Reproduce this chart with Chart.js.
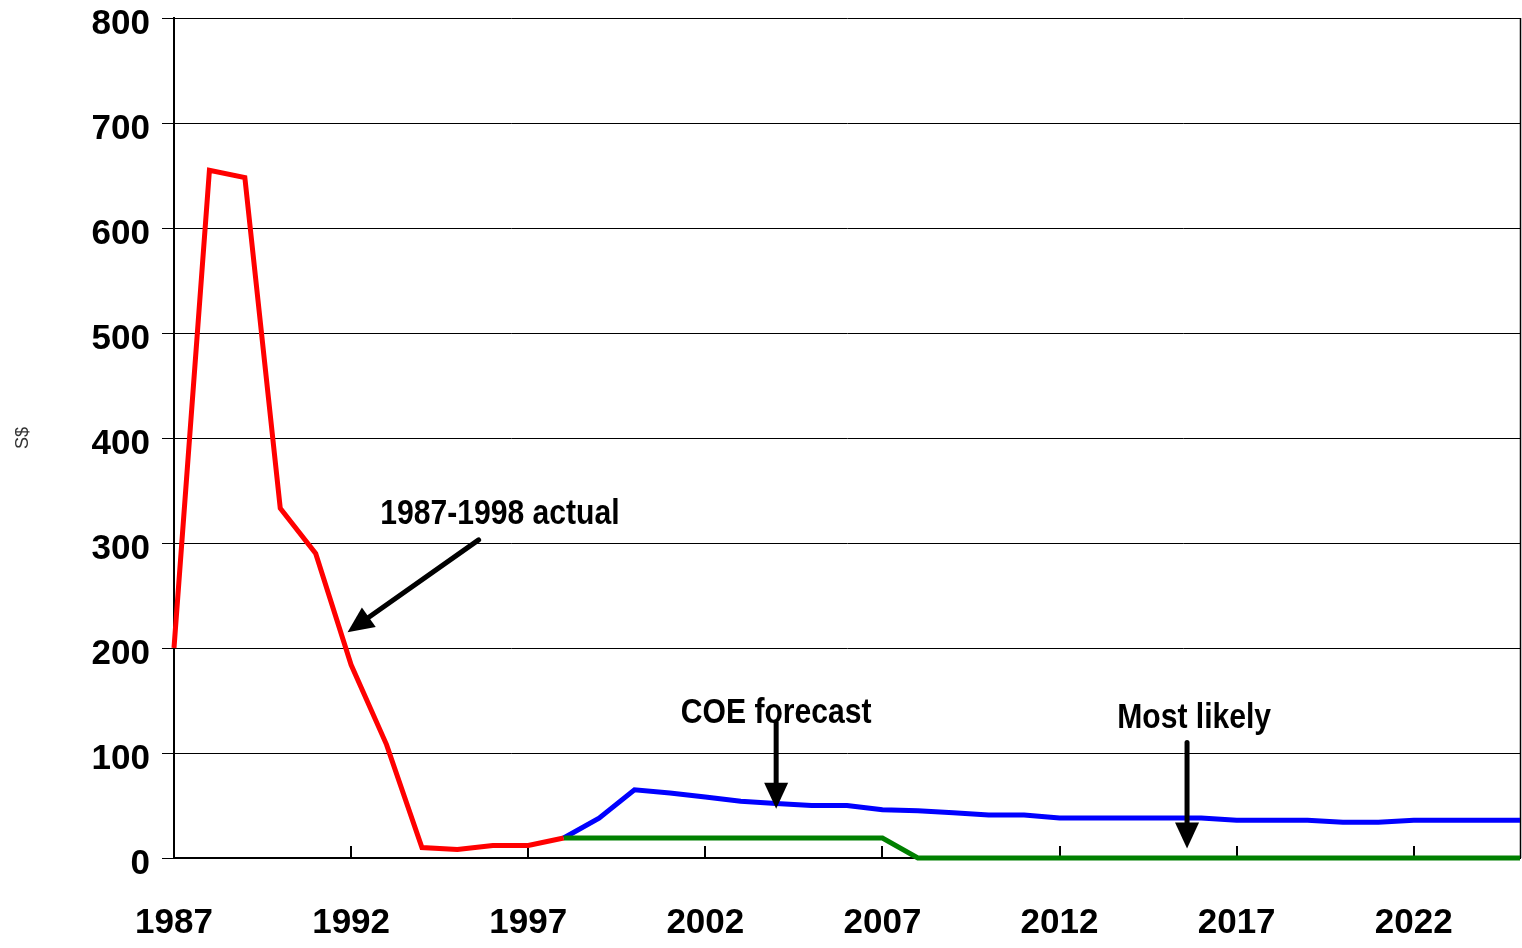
<!DOCTYPE html>
<html>
<head>
<meta charset="utf-8">
<script src="https://cdn.jsdelivr.net/npm/chart.js@4/dist/chart.umd.min.js"></script>
<style>
  html, body { margin: 0; padding: 0; background: #ffffff; }
  canvas { display: block; }
</style>
</head>
<body>
<canvas id="chart" width="1522" height="948"></canvas>
<script>
// Years shown on the axis
const tickYears = [1987, 1992, 1997, 2002, 2007, 2012, 2017, 2022];

// 1987-1998 actual
const actualYears = [1987, 1988, 1989, 1990, 1991, 1992, 1993, 1994, 1995, 1996, 1997, 1998];
const actualValues = [200, 655, 648, 333, 290, 184, 108, 10, 8, 12, 12, 19];

// Forecast years 1998-2025
const forecastYears = [1998, 1999, 2000, 2001, 2002, 2003, 2004, 2005, 2006, 2007,
                       2008, 2009, 2010, 2011, 2012, 2013, 2014, 2015, 2016, 2017,
                       2018, 2019, 2020, 2021, 2022, 2023, 2024, 2025];
const coeForecast = [19, 38, 65, 62, 58, 54, 52, 50, 50, 46,
                     45, 43, 41, 41, 38, 38, 38, 38, 38, 36,
                     36, 36, 34, 34, 36, 36, 36, 36];
const mostLikely = [19, 19, 19, 19, 19, 19, 19, 19, 19, 19,
                    0, 0, 0, 0, 0, 0, 0, 0, 0, 0,
                    0, 0, 0, 0, 0, 0, 0, 0];

// Callouts: label text and arrow (in year / value units)
const callouts = [
  { text: '1987-1998 actual', at: [1996.2, 327], from: [1995.6, 303], to: [1991.9, 215] },
  { text: 'COE forecast',     at: [2004.0, 138], from: [2004.0, 129], to: [2004.0, 47] },
  { text: 'Most likely',      at: [2015.8, 133], from: [2015.6, 110], to: [2015.6, 9] }
];

const FONT = "'Liberation Sans', Arial, sans-serif";

function pairs(xs, ys) {
  return xs.map((x, i) => ({ x: x, y: ys[i] }));
}

const frameAndTicks = {
  id: 'frameAndTicks',
  beforeDatasetsDraw(chart) {
    const { ctx, chartArea, scales } = chart;
    ctx.save();
    ctx.strokeStyle = '#000';
    ctx.lineWidth = 2;
    ctx.beginPath();
    tickYears.forEach(y => {
      const px = Math.round(scales.x.getPixelForValue(y));
      ctx.moveTo(px, chartArea.bottom);
      ctx.lineTo(px, chartArea.bottom - 12);
    });
    ctx.stroke();
    ctx.lineWidth = 1.5;
    ctx.beginPath();
    ctx.moveTo(chartArea.right + 0.5, chartArea.top);
    ctx.lineTo(chartArea.right + 0.5, chartArea.bottom);
    ctx.stroke();
    ctx.restore();
  }
};

function arrow(ctx, x1, y1, x2, y2) {
  const ang = Math.atan2(y2 - y1, x2 - x1);
  const headLen = 26, headHalf = 12;
  const bx = x2 - headLen * Math.cos(ang);
  const by = y2 - headLen * Math.sin(ang);
  ctx.beginPath();
  ctx.moveTo(x1, y1);
  ctx.lineTo(bx, by);
  ctx.stroke();
  ctx.beginPath();
  ctx.moveTo(x2, y2);
  ctx.lineTo(bx + headHalf * Math.sin(ang), by - headHalf * Math.cos(ang));
  ctx.lineTo(bx - headHalf * Math.sin(ang), by + headHalf * Math.cos(ang));
  ctx.closePath();
  ctx.fill();
}

const calloutPlugin = {
  id: 'callouts',
  afterDatasetsDraw(chart) {
    const { ctx, scales } = chart;
    ctx.save();
    ctx.fillStyle = '#000';
    ctx.strokeStyle = '#000';
    ctx.lineWidth = 5;
    ctx.lineCap = 'round';
    callouts.forEach(c => {
      const tx = scales.x.getPixelForValue(c.at[0]);
      const ty = scales.y.getPixelForValue(c.at[1]);
      // condensed lettering
      ctx.save();
      ctx.translate(tx, ty);
      ctx.scale(0.86, 1);
      ctx.font = `bold 35px ${FONT}`;
      ctx.textAlign = 'center';
      ctx.textBaseline = 'middle';
      ctx.fillText(c.text, 0, 0);
      ctx.restore();
      arrow(ctx,
        scales.x.getPixelForValue(c.from[0]), scales.y.getPixelForValue(c.from[1]),
        scales.x.getPixelForValue(c.to[0]), scales.y.getPixelForValue(c.to[1]));
    });
    ctx.restore();
  }
};

new Chart(document.getElementById('chart'), {
  type: 'line',
  data: {
    datasets: [
      { label: '1987-1998 actual', data: pairs(actualYears, actualValues),
        borderColor: '#FF0000', borderWidth: 5, order: 0 },
      { label: 'Most likely', data: pairs(forecastYears, mostLikely),
        borderColor: '#008000', borderWidth: 5, order: 1 },
      { label: 'COE forecast', data: pairs(forecastYears, coeForecast),
        borderColor: '#0000FF', borderWidth: 5, order: 2 }
    ]
  },
  options: {
    responsive: false,
    animation: false,
    clip: false,
    elements: {
      point: { radius: 0, hoverRadius: 0 },
      line: { tension: 0, borderJoinStyle: 'miter', borderCapStyle: 'butt' }
    },
    layout: { padding: { top: 18, right: 2, left: 0, bottom: 0 } },
    plugins: { legend: { display: false }, tooltip: { enabled: false } },
    scales: {
      x: {
        type: 'linear',
        min: 1987,
        max: 2025,
        afterBuildTicks: s => { s.ticks = tickYears.map(v => ({ value: v })); },
        afterFit: s => { s.height = 90; s.paddingLeft = 0; s.paddingRight = 0; },
        grid: { display: true, drawOnChartArea: false, drawTicks: false },
        border: { display: true, color: '#000', width: 2 },
        ticks: {
          autoSkip: false, maxRotation: 0, padding: 44, color: '#000',
          font: { family: FONT, size: 35, weight: 'bold' },
          callback: v => String(v)
        }
      },
      y: {
        min: 0,
        max: 800,
        afterFit: s => { s.width = 174; s.paddingTop = 0; s.paddingBottom = 0; },
        grid: { color: '#000', lineWidth: 1, tickLength: 12 },
        border: { display: true, color: '#000', width: 2 },
        ticks: {
          stepSize: 100, padding: 12, labelOffset: 6, color: '#000',
          font: { family: FONT, size: 35, weight: 'bold' }
        },
        title: {
          display: true, text: 'S$', color: '#333',
          font: { family: FONT, size: 18 },
          padding: { top: 12, bottom: 0 }
        }
      }
    }
  },
  plugins: [frameAndTicks, calloutPlugin]
});
</script>
</body>
</html>
